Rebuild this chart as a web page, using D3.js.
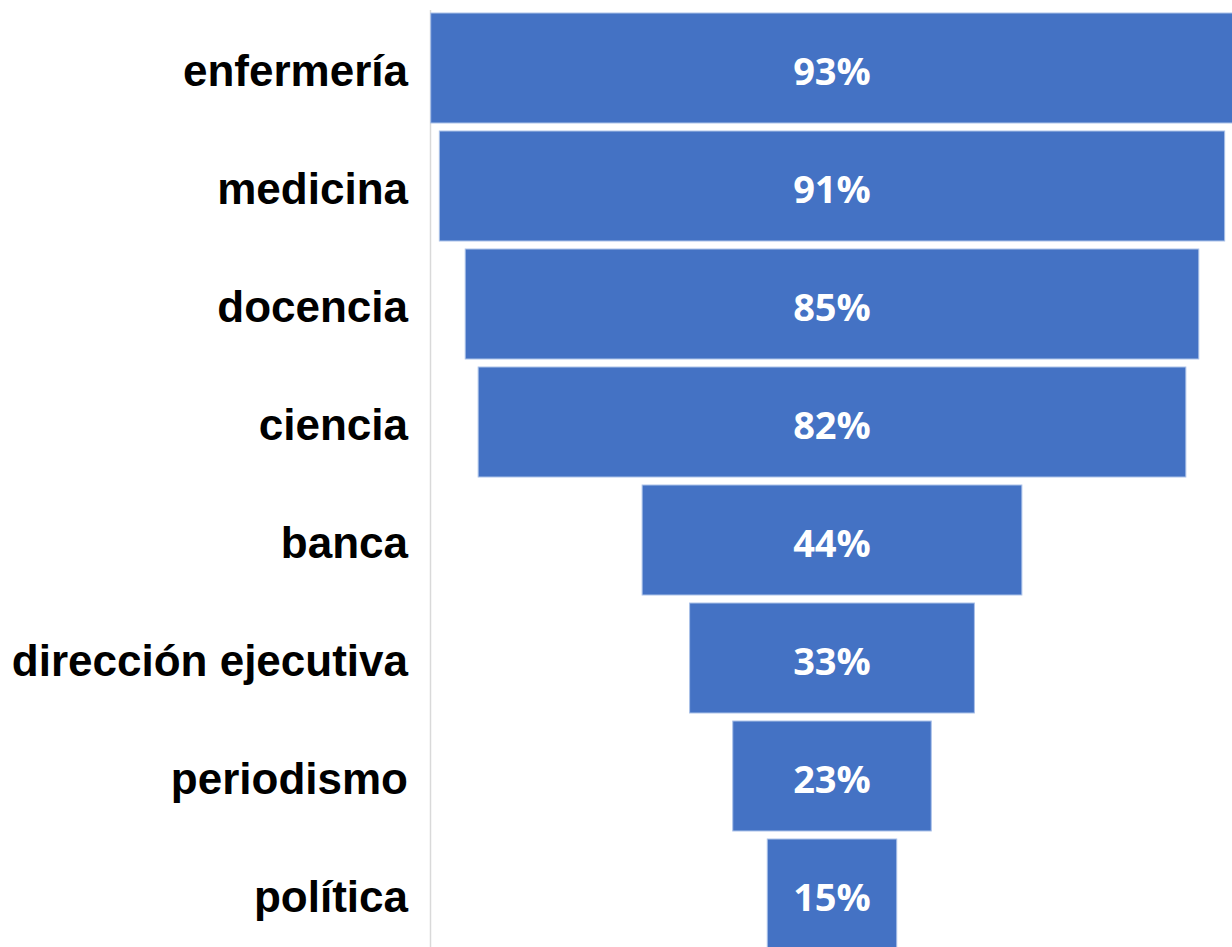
<!DOCTYPE html>
<html>
<head>
<meta charset="utf-8">
<script src="https://cdn.jsdelivr.net/npm/d3@7/dist/d3.min.js"></script>
<style>
  html, body { margin: 0; padding: 0; background: #fff; overflow: hidden; }
</style>
</head>
<body>
<svg id="chart" width="1232" height="947"></svg>
<script>
const categories = ["enfermería", "medicina", "docencia", "ciencia", "banca", "dirección ejecutiva", "periodismo", "política"];
const values = [93, 91, 85, 82, 44, 33, 23, 15];
const valueLabels = ["93%", "91%", "85%", "82%", "44%", "33%", "23%", "15%"];

const data = categories.map((c, i) => ({ cat: c, v: values[i], label: valueLabels[i] }));

const svg = d3.select("#chart");
const W = 1232, H = 947;
const centerX = 832;

const y = d3.scaleBand()
  .domain(categories)
  .range([9, 953])
  .paddingInner(0.068)
  .paddingOuter(0.034);

const w = d3.scaleLinear().domain([0, 100]).range([0, 863]);

// axis line
svg.append("line")
  .attr("x1", 430.5).attr("x2", 430.5)
  .attr("y1", 10).attr("y2", H)
  .attr("stroke", "#d9d9d9").attr("stroke-width", 1.5);

const g = svg.append("g");

g.selectAll("rect").data(data).join("rect")
  .attr("x", d => centerX - w(d.v) / 2)
  .attr("y", d => y(d.cat))
  .attr("width", d => w(d.v))
  .attr("height", y.bandwidth())
  .attr("fill", "#4472C4")
  .attr("stroke", "#a9c0e8")
  .attr("stroke-width", 1);

g.selectAll("text.val").data(data).join("text")
  .attr("class", "val")
  .attr("x", centerX)
  .attr("y", d => y(d.cat) + y.bandwidth() / 2 + 17)
  .attr("text-anchor", "middle")
  .attr("fill", "#ffffff")
  .style("font-family", "'Open Sans', sans-serif")
  .style("font-weight", 700)
  .style("font-size", "38px")
  .text(d => d.label);

g.selectAll("text.cat").data(data).join("text")
  .attr("class", "cat")
  .attr("x", 408)
  .attr("y", d => y(d.cat) + y.bandwidth() / 2 + 17.5)
  .attr("text-anchor", "end")
  .attr("fill", "#000000")
  .style("font-family", "'Liberation Sans', Arial, sans-serif")
  .style("font-weight", 700)
  .style("font-size", "44px")
  .text(d => d.cat);
</script>
</body>
</html>
